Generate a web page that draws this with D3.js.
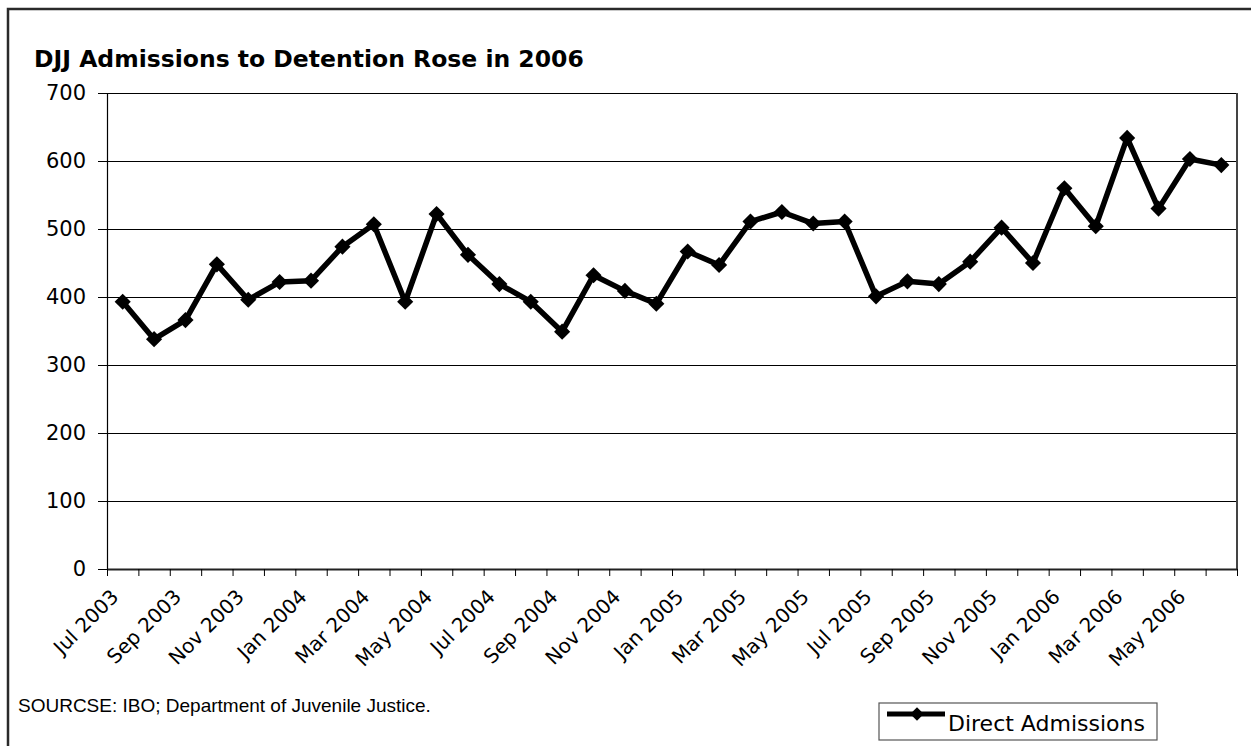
<!DOCTYPE html>
<html lang="en">
  <head>
    <meta charset="UTF-8" />
    <title>DJJ Admissions</title>
    <style>
      body { margin: 0; background: #fff; }
    </style>
  </head>
  <body>
    <svg id="svg" width="1251" height="746"></svg>

    <script src="https://cdn.jsdelivr.net/npm/d3@7"></script>
    <script>
      const WIDTH = 1251;
      const HEIGHT = 746;
      const PLOT = { left: 107, right: 1237, top: 93, bottom: 569 };
      const GOTHIC = "'DejaVu Sans', sans-serif";

      const months = [
        "Jul 2003", "Aug 2003", "Sep 2003", "Oct 2003", "Nov 2003", "Dec 2003",
        "Jan 2004", "Feb 2004", "Mar 2004", "Apr 2004", "May 2004", "Jun 2004",
        "Jul 2004", "Aug 2004", "Sep 2004", "Oct 2004", "Nov 2004", "Dec 2004",
        "Jan 2005", "Feb 2005", "Mar 2005", "Apr 2005", "May 2005", "Jun 2005",
        "Jul 2005", "Aug 2005", "Sep 2005", "Oct 2005", "Nov 2005", "Dec 2005",
        "Jan 2006", "Feb 2006", "Mar 2006", "Apr 2006", "May 2006", "Jun 2006"
      ];
      const admissions = [
        393, 338, 366, 448, 396, 422,
        424, 474, 507, 393, 522, 462,
        419, 393, 349, 432, 409, 390,
        467, 447, 511, 525, 508, 511,
        401, 423, 419, 452, 502, 450,
        560, 504, 634, 530, 603, 594
      ];
      const tickLabels = [
        "Jul 2003", "Sep 2003", "Nov 2003", "Jan 2004", "Mar 2004", "May 2004",
        "Jul 2004", "Sep 2004", "Nov 2004", "Jan 2005", "Mar 2005", "May 2005",
        "Jul 2005", "Sep 2005", "Nov 2005", "Jan 2006", "Mar 2006", "May 2006"
      ];
      const yTicks = [0, 100, 200, 300, 400, 500, 600, 700];

      const data = months.map((m, i) => ({ month: m, i: i, value: admissions[i] }));

      const svg = d3.select("#svg");

      // outer frame (runs off the right and bottom edges)
      svg
        .append("rect")
        .attr("x", 8)
        .attr("y", 9)
        .attr("width", 1300)
        .attr("height", 800)
        .attr("fill", "none")
        .attr("stroke", "#2a2a2a")
        .attr("stroke-width", 2.5);

      svg
        .append("text")
        .attr("x", 34)
        .attr("y", 67)
        .attr("font-family", GOTHIC)
        .attr("font-weight", "bold")
        .attr("font-size", 23.5)
        .attr("fill", "#000")
        .text("DJJ Admissions to Detention Rose in 2006");

      const xScale = d3
        .scaleLinear()
        .domain([0, months.length])
        .range([PLOT.left, PLOT.right]);

      const yScale = d3
        .scaleLinear()
        .domain([0, 700])
        .range([PLOT.bottom, PLOT.top]);

      // gridlines
      svg
        .append("g")
        .selectAll("line")
        .data(yTicks.filter((t) => t > 0))
        .enter()
        .append("line")
        .attr("x1", PLOT.left)
        .attr("x2", PLOT.right)
        .attr("y1", (d) => Math.round(yScale(d)) + 0.5)
        .attr("y2", (d) => Math.round(yScale(d)) + 0.5)
        .attr("stroke", "#000")
        .attr("stroke-width", 1);

      // right border of plot area
      svg
        .append("line")
        .attr("x1", PLOT.right)
        .attr("x2", PLOT.right)
        .attr("y1", PLOT.top)
        .attr("y2", PLOT.bottom)
        .attr("stroke", "#444")
        .attr("stroke-width", 2);

      // y axis
      const leftAxis = d3.axisLeft(yScale).tickValues(yTicks).tickSize(9).tickPadding(12).tickSizeOuter(0);
      const gy = svg
        .append("g")
        .attr("transform", `translate(${PLOT.left}, 0)`)
        .call(leftAxis);
      gy.select(".domain").attr("stroke", "#000").attr("stroke-width", 1.2);
      gy.selectAll(".tick line").attr("stroke", "#000");
      gy.selectAll(".tick text")
        .attr("font-family", GOTHIC)
        .attr("font-size", 21)
        .attr("fill", "#000");

      // x axis: ticks at every month boundary, labels added separately
      const bottomAxis = d3
        .axisBottom(xScale)
        .tickValues(d3.range(0, months.length + 1))
        .tickFormat("")
        .tickSize(7)
        .tickSizeOuter(0);
      const gx = svg
        .append("g")
        .attr("transform", `translate(0, ${PLOT.bottom})`)
        .call(bottomAxis);
      gx.select(".domain").attr("stroke", "#222").attr("stroke-width", 2);
      gx.selectAll(".tick line").attr("stroke", "#000");

      svg
        .append("g")
        .selectAll("text")
        .data(tickLabels)
        .enter()
        .append("text")
        .attr("transform", (d) => {
          const i = months.indexOf(d);
          return `translate(${xScale(i + 0.5) - 8}, ${PLOT.bottom + 24}) rotate(-45)`;
        })
        .attr("text-anchor", "end")
        .attr("dy", "0.35em")
        .attr("font-family", GOTHIC)
        .attr("font-size", 20)
        .attr("fill", "#000")
        .text((d) => d);

      // series
      const lineGen = d3
        .line()
        .x((d) => xScale(d.i + 0.5))
        .y((d) => yScale(d.value));

      svg
        .append("path")
        .attr("d", lineGen(data))
        .attr("fill", "none")
        .attr("stroke", "#000")
        .attr("stroke-width", 5.5)
        .attr("stroke-linejoin", "round");

      const diamond = d3.symbol().type(d3.symbolSquare).size(130);
      svg
        .append("g")
        .selectAll("path")
        .data(data)
        .enter()
        .append("path")
        .attr("d", diamond)
        .attr("transform", (d) => `translate(${xScale(d.i + 0.5)}, ${yScale(d.value)}) rotate(45)`)
        .attr("fill", "#000");

      // source note
      svg
        .append("text")
        .attr("x", 18)
        .attr("y", 712)
        .attr("font-family", "'Liberation Sans', Arial, sans-serif")
        .attr("font-size", 19)
        .attr("fill", "#000")
        .text("SOURCSE: IBO; Department of Juvenile Justice.");

      // legend
      const legend = svg.append("g").attr("transform", "translate(879, 703)");
      legend
        .append("rect")
        .attr("width", 278)
        .attr("height", 37)
        .attr("fill", "#fff")
        .attr("stroke", "#555")
        .attr("stroke-width", 1.2);
      legend
        .append("line")
        .attr("x1", 8)
        .attr("x2", 66)
        .attr("y1", 11)
        .attr("y2", 11)
        .attr("stroke", "#000")
        .attr("stroke-width", 5);
      legend
        .append("path")
        .attr("d", d3.symbol().type(d3.symbolSquare).size(90))
        .attr("transform", "translate(38, 11) rotate(45)")
        .attr("fill", "#000");
      legend
        .append("text")
        .attr("x", 69)
        .attr("y", 28)
        .attr("font-family", GOTHIC)
        .attr("font-size", 22)
        .attr("fill", "#000")
        .text("Direct Admissions");
    </script>
  </body>
</html>
